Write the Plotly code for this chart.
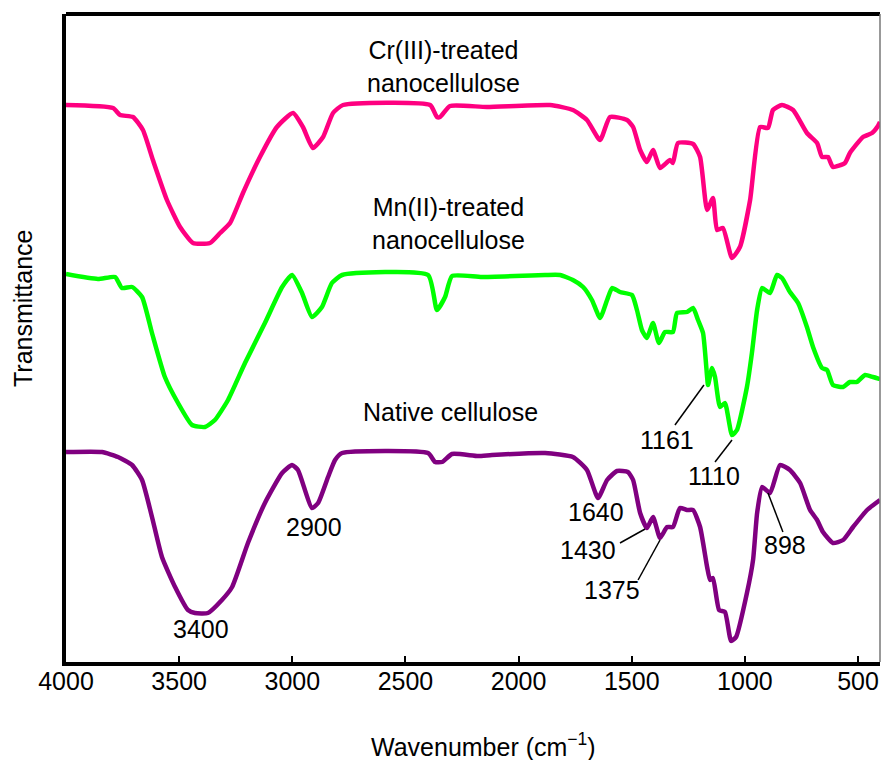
import plotly.graph_objects as go

# Wavenumber (cm^-1) and transmittance (arbitrary units, curves offset)
native_wn = [4000, 3841, 3770, 3708, 3664, 3620, 3576, 3518, 3461, 3430, 3373, 3311, 3266, 3196, 3121,
             3045, 3001, 2975, 2913, 2886, 2842, 2811, 2780, 2400, 2369, 2338, 2294, 2179, 2118, 1883,
             1760, 1698, 1649, 1609, 1565, 1517, 1494, 1463, 1433, 1406, 1375, 1344, 1318, 1287, 1256,
             1229, 1198, 1167, 1154, 1141, 1114, 1088, 1061, 1039, 991, 964, 946, 924, 889, 845, 801,
             756, 712, 681, 655, 611, 566, 522, 460, 403]
native_t = [210, 210, 205, 197, 182, 145, 105, 75, 52, 49, 49, 62, 75, 119, 159,
            189, 197, 192, 154, 159, 185, 202, 209, 209, 200, 200, 208, 206, 207, 209,
            205, 192, 164, 182, 191, 190, 182, 149, 134, 145, 124, 135, 135, 154, 152,
            152, 135, 95, 82, 84, 52, 50, 21, 25, 69, 102, 149, 175, 169, 197, 192,
            179, 152, 142, 130, 119, 122, 135, 152, 162]

mn_wn = [4000, 3859, 3783, 3753, 3708, 3664, 3620, 3563, 3505, 3443, 3386, 3342, 3284, 3209, 3121,
         3045, 3001, 2957, 2913, 2869, 2825, 2780, 2400, 2361, 2325, 2294, 2162, 1883, 1817, 1760,
         1715, 1676, 1640, 1609, 1587, 1552, 1499, 1477, 1455, 1433, 1406, 1380, 1353, 1318, 1300,
         1256, 1229, 1207, 1185, 1167, 1163, 1145, 1132, 1110, 1088, 1057, 1035, 991, 969, 946, 924,
         889, 858, 836, 801, 765, 726, 699, 659, 637, 611, 566, 536, 505, 469, 434, 403]
mn_t = [388, 383, 385, 374, 375, 365, 329, 285, 259, 237, 235, 242, 262, 299, 339,
        375, 387, 369, 345, 355, 379, 387, 387, 352, 365, 386, 385, 387, 387, 382,
        375, 362, 344, 362, 374, 370, 367, 352, 332, 324, 339, 319, 330, 330, 349,
        350, 354, 342, 329, 285, 277, 294, 285, 255, 259, 227, 232, 275, 309, 352, 374,
        369, 387, 384, 370, 359, 335, 315, 294, 292, 277, 275, 280, 280, 287, 285, 283]

cr_wn = [4000, 3792, 3761, 3704, 3660, 3616, 3554, 3496, 3439, 3364, 3319, 3275, 3218, 3143, 3068,
         2997, 2953, 2909, 2864, 2820, 2776, 2391, 2361, 2347, 2303, 2140, 1861, 1760, 1698, 1640,
         1596, 1521, 1494, 1463, 1433, 1406, 1375, 1331, 1318, 1296, 1229, 1198, 1167, 1141, 1123,
         1097, 1057, 1022, 977, 933, 898, 876, 836, 787, 726, 681, 659, 633, 611, 558, 536, 478,
         438, 412, 403]
cr_t = [557, 554, 547, 545, 532, 502, 462, 435, 419, 419, 429, 439, 469, 505, 535,
        549, 535, 514, 525, 549, 557, 557, 545, 545, 556, 555, 557, 552, 542, 522,
        545, 542, 535, 512, 500, 512, 494, 502, 499, 519, 518, 505, 452, 464, 432,
        434, 404, 415, 462, 535, 534, 552, 557, 552, 529, 519, 505, 505, 495, 499, 509, 525,
        529, 536, 540]

tick_vals = [4000, 3500, 3000, 2500, 2000, 1500, 1000, 500]
tick_text = ["4000", "3500", "3000", "2500", "2000", "1500", "1000", "500"]

# Peak labels: text, label centre (wn, t)
peak_labels = ["3400", "2900", "1640", "1430", "1375", "1161", "1110", "898"]
label_x = [3403, 2904, 1658, 1693, 1587, 1344, 1136, 823]
label_y = [33, 135, 150, 112, 72, 222, 186, 117]
# Leader lines (from, to) for labels that have them
leader_x0 = [1552, 1472, 1309, 1132, 832]
leader_y0 = [119, 82, 237, 200, 130]
leader_x1 = [1441, 1375, 1181, 1057, 898]
leader_y1 = [133, 122, 277, 222, 169]

series_names = ["Cr(III)-treated<br>nanocellulose", "Mn(II)-treated<br>nanocellulose", "Native cellulose"]
series_label_x = [2334, 2308, 2303]
series_label_y = [596, 439, 250]

FONT = "Liberation Sans, Arial, sans-serif"

fig = go.Figure()
for wn, t, col in [(cr_wn, cr_t, "#FF0080"), (mn_wn, mn_t, "#00FF00"), (native_wn, native_t, "#800080")]:
    fig.add_trace(go.Scatter(x=wn, y=t, mode="lines",
                             line=dict(color=col, width=4.5, shape="spline", smoothing=0.5),
                             showlegend=False, hoverinfo="skip"))

for t, x, y in zip(peak_labels, label_x, label_y):
    fig.add_annotation(x=x, y=y, text=t, showarrow=False, xanchor="center", yanchor="middle",
                       font=dict(size=25, color="black", family=FONT))
for x0, y0, x1, y1 in zip(leader_x0, leader_y0, leader_x1, leader_y1):
    fig.add_shape(type="line", x0=x0, y0=y0, x1=x1, y1=y1, xref="x", yref="y",
                  line=dict(color="black", width=1.5))
for t, x, y in zip(series_names, series_label_x, series_label_y):
    fig.add_annotation(x=x, y=y, text=t, showarrow=False, xanchor="center", yanchor="middle",
                       font=dict(size=25, color="black", family=FONT))

# Axis titles (pixel placement, converted below)
fig.add_annotation(x=483, y=745, xref="paper", yref="paper", text="Wavenumber (cm<sup>\u22121</sup>)",
                   showarrow=False, font=dict(size=25, color="black", family=FONT))
fig.add_annotation(x=23, y=309, xref="paper", yref="paper", text="Transmittance", textangle=-90,
                   showarrow=False, font=dict(size=25, color="black", family=FONT))

# frame: top thick, right thin gray
fig.add_shape(type="line", xref="paper", yref="paper", x0=0, x1=1, y0=1, y1=1,
              line=dict(color="black", width=4))
fig.add_shape(type="line", xref="paper", yref="paper", x0=1, x1=1, y0=0, y1=1,
              line=dict(color="#777777", width=1.5))

W, H = 881, 760
L, R, T, B = 66, 1, 14, 98
fig.update_layout(
    width=W, height=H,
    margin=dict(l=L, r=R, t=T, b=B),
    paper_bgcolor="white", plot_bgcolor="white",
    font=dict(family=FONT, size=25, color="black"),
    xaxis=dict(range=[4000, 403], tickvals=tick_vals, ticktext=tick_text, ticks="inside",
               ticklen=6, tickwidth=1.5, tickcolor="black", showline=True, linecolor="black",
               linewidth=4, showgrid=False, zeroline=False, ticklabelstandoff=-6,
               tickfont=dict(size=25, family=FONT, color="black")),
    yaxis=dict(range=[0, 648], showticklabels=False, ticks="", showline=True, linecolor="black",
               linewidth=3.5, showgrid=False, zeroline=False),
)

for a in fig.layout.annotations:
    if a.xref == "paper":
        px, py = a.x, a.y
        a.x = (px - L) / (W - L - R)
        a.y = (H - B - py) / (H - T - B)
        a.xanchor = "center"
        a.yanchor = "middle"

fig.write_html("out.html")
